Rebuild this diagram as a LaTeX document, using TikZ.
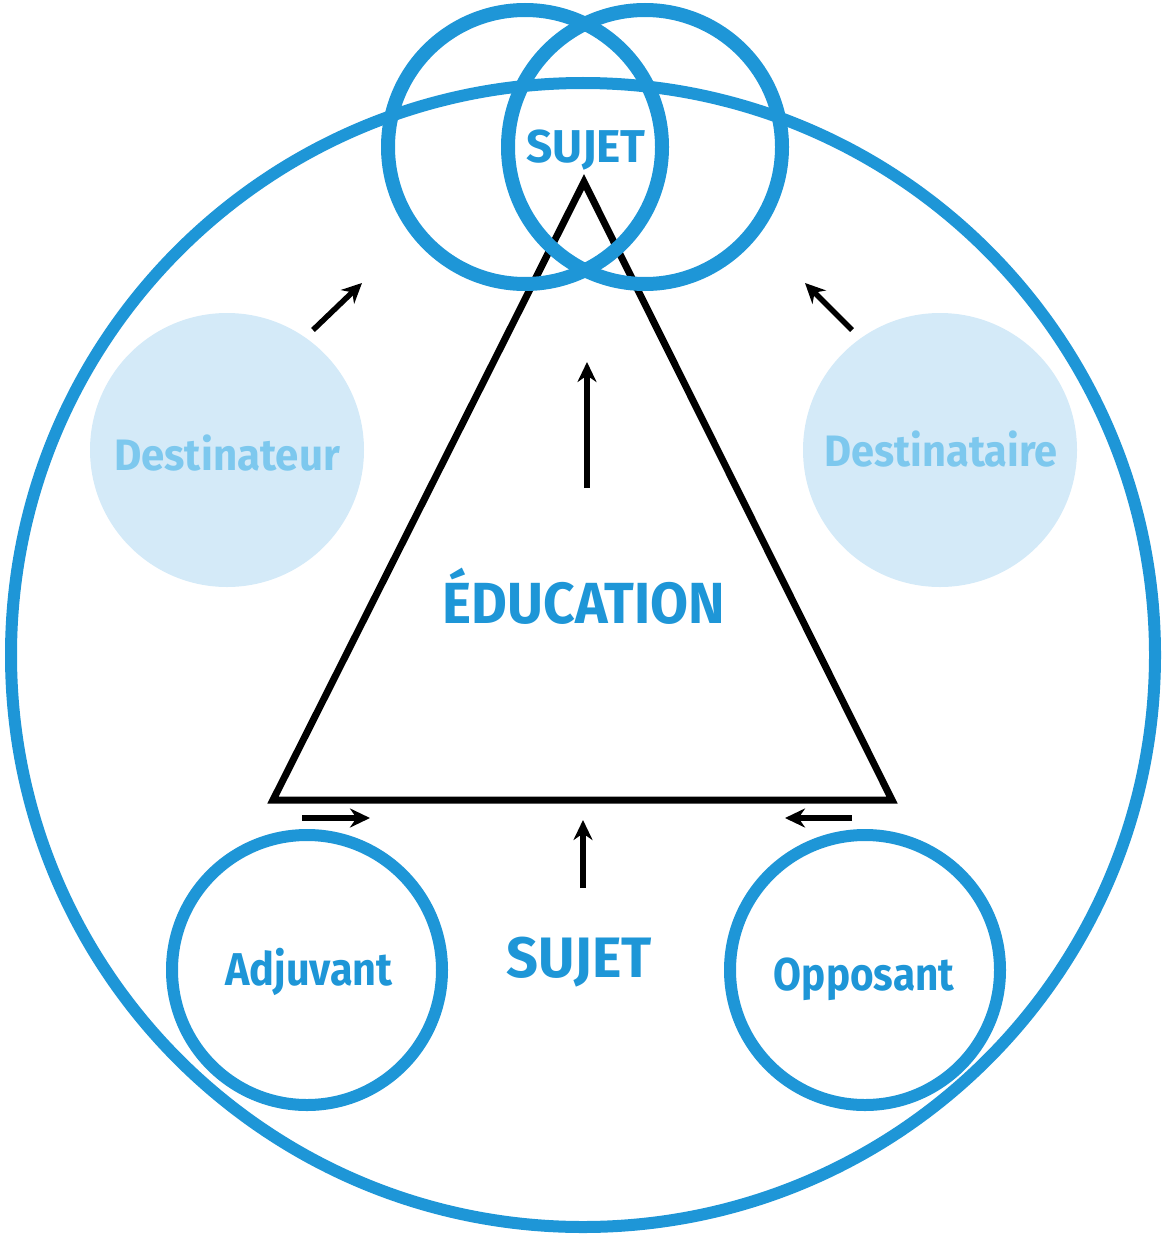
\documentclass[tikz,border=0pt]{standalone}
\usepackage{fontspec}
\setmainfont{Fira Sans}
\usetikzlibrary{arrows.meta}
\definecolor{cblue}{RGB}{30,150,215}
\definecolor{clight}{RGB}{212,234,248}
\definecolor{ctext}{RGB}{125,200,238}
\begin{document}
\begin{tikzpicture}[x=1pt,y=-1pt,
  ring/.style={circle, draw=cblue, line width=12pt, inner sep=0pt},
  thickring/.style={circle, draw=cblue, line width=14pt, inner sep=0pt},
  softdisc/.style={circle, fill=clight, inner sep=0pt, minimum size=274pt},
  lbl/.style={text=cblue, anchor=base, inner sep=0pt},
  softlbl/.style={text=ctext, anchor=base, inner sep=0pt},
  arr/.style={line width=5.5pt, -{Stealth[length=20pt,width=19pt]}}
]
\useasboundingbox (0,0) rectangle (1165,1236);
% outer circle
\node[ring, minimum size=1144pt] (outer) at (583,655) {};
% soft discs
\node[softdisc] (dl) at (227,450) {};
\node[softdisc] (dr) at (940,450) {};
% triangle
\coordinate (apex) at (584,182);
\coordinate (bl) at (273,800);
\coordinate (br) at (892,800);
\draw[line width=7pt, line join=miter] (apex) -- (bl) -- (br) -- cycle;
% top circles
\node[thickring, minimum size=274pt] (tl) at (525,147) {};
\node[thickring, minimum size=274pt] (tr) at (645,147) {};
% bottom circles
\node[ring, minimum size=270pt] (adj) at (307,970) {};
\node[ring, minimum size=270pt] (opp) at (865,970) {};
% texts
\node[lbl, font=\bfseries\fontsize{46}{46}\selectfont] (sujetTop) at (586,162) {\scalebox{1.0}[1]{SUJET}};
\node[lbl, font=\bfseries\fontsize{58}{58}\selectfont] (edu) at (584,623) {\scalebox{0.95}[1]{ÉDUCATION}};
\node[lbl, font=\bfseries\fontsize{57}{57}\selectfont] (sujetBot) at (579,977) {\scalebox{0.98}[1]{SUJET}};
\node[lbl, font=\bfseries\fontsize{46}{46}\selectfont] (adjt) at (309,985) {\scalebox{0.9}[1]{Adjuvant}};
\node[lbl, font=\bfseries\fontsize{46}{46}\selectfont] (oppt) at (864,990) {\scalebox{0.88}[1]{Opposant}};
\node[softlbl, font=\bfseries\fontsize{44}{44}\selectfont] (dlt) at (227,470) {\scalebox{0.955}[1]{Destinateur}};
\node[softlbl, font=\bfseries\fontsize{44}{44}\selectfont] (drt) at (941,466) {\scalebox{0.945}[1]{Destinataire}};
% arrows
\coordinate (a1s) at (313,330); \coordinate (a1e) at (362,283);
\coordinate (a2s) at (852,330); \coordinate (a2e) at (805,283);
\coordinate (a3s) at (587,488); \coordinate (a3e) at (587,362);
\coordinate (a4s) at (302,818); \coordinate (a4e) at (370,818);
\coordinate (a5s) at (852,818); \coordinate (a5e) at (785,818);
\coordinate (a6s) at (583,888); \coordinate (a6e) at (583,820);
\draw[arr] (a1s) -- (a1e);
\draw[arr] (a2s) -- (a2e);
\draw[arr] (a3s) -- (a3e);
\draw[arr] (a4s) -- (a4e);
\draw[arr] (a5s) -- (a5e);
\draw[arr] (a6s) -- (a6e);
\end{tikzpicture}
\end{document}
